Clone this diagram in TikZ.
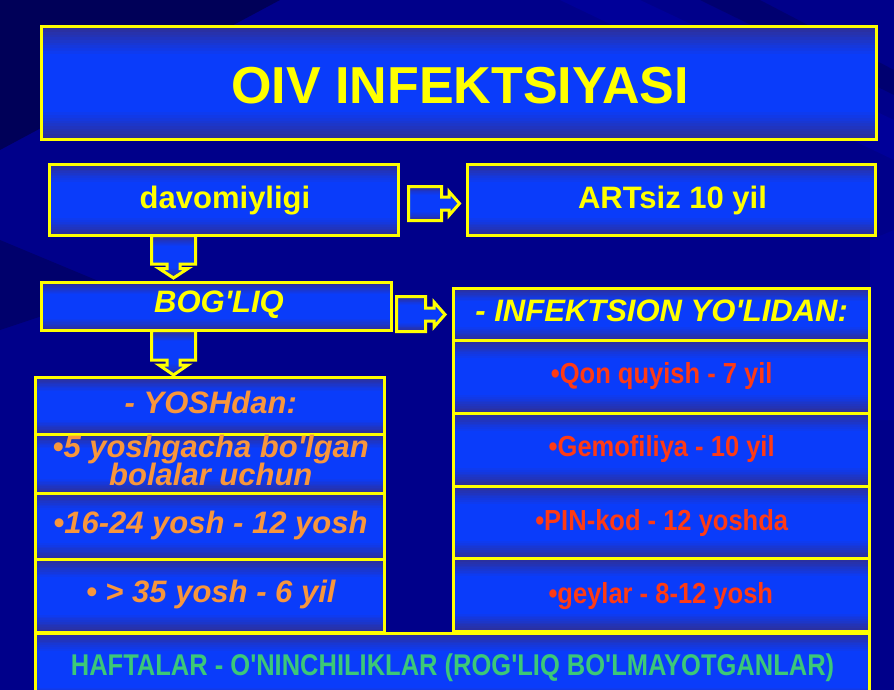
\documentclass[tikz,border=0pt]{standalone}
\usepackage{fontspec}
\setmainfont{Liberation Sans}
\usetikzlibrary{calc}
\definecolor{bgnavy}{HTML}{00008A}
\definecolor{bgdark}{HTML}{000058}
\definecolor{bglight}{HTML}{0000A8}
\definecolor{bright}{HTML}{0A3CFA}
\definecolor{dk}{HTML}{2E2F98}
\definecolor{yel}{HTML}{FFFF00}
\definecolor{orng}{HTML}{F8963C}
\definecolor{redt}{HTML}{FF3A14}
\definecolor{grn}{HTML}{3CC878}
\tikzset{
  panel/.style={draw=yel, line width=3pt, fill=bright, inner sep=0pt, outer sep=0pt,
    path picture={
      \foreach \i in {0,...,9}{
        \pgfmathsetmacro\ppa{0.024*\i}
        \pgfmathsetmacro\ppb{0.024*(\i+1)+0.003}
        \pgfmathsetmacro\ppc{1-\ppa}
        \pgfmathsetmacro\ppd{1-\ppb}
        \pgfmathtruncatemacro\ppk{100-10*\i}
        \fill[dk!\ppk!bright] ($(path picture bounding box.north west)!\ppa!(path picture bounding box.south west)$) rectangle ($(path picture bounding box.north east)!\ppb!(path picture bounding box.south east)$);
        \fill[dk!\ppk!bright] ($(path picture bounding box.north west)!\ppc!(path picture bounding box.south west)$) rectangle ($(path picture bounding box.north east)!\ppd!(path picture bounding box.south east)$);
      }
    }},
  barrow/.style={panel, line join=miter},
  ytxt/.style={text=yel, font=\fontsize{31}{31}\selectfont\bfseries, anchor=base, inner sep=0pt},
  yitxt/.style={text=yel, font=\fontsize{31}{31}\selectfont\bfseries\itshape, anchor=base, inner sep=0pt},
  otxt/.style={text=orng, font=\fontsize{31}{28}\selectfont\bfseries\itshape, anchor=base, inner sep=0pt},
  rtxt/.style={text=redt, font=\fontsize{29}{29}\selectfont\bfseries, anchor=base, inner sep=0pt},
  gtxt/.style={text=grn, font=\fontsize{30}{30}\selectfont\bfseries, anchor=base, inner sep=0pt},
}
\begin{document}
\begin{tikzpicture}[x=1pt,y=-1pt]
\useasboundingbox (0,0) rectangle (894,690);
\clip (0,0) rectangle (894,690);
% background
\fill[bgnavy] (0,0) rectangle (894,690);
\fill[bgdark] (0,0) -- (280,0) -- (0,150) -- cycle;
\fill[bgdark, opacity=0.6] (0,240) -- (120,290) -- (0,330) -- cycle;
\fill[bglight, opacity=0.5] (560,0) -- (640,0) -- (894,120) -- (894,160) -- cycle;
\fill[bgdark, opacity=0.5] (700,0) -- (760,0) -- (894,70) -- (894,95) -- cycle;
\fill[bglight, opacity=0.4] (870,240) -- (894,230) -- (894,420) -- (870,420) -- cycle;

% boxes
\node[panel, minimum width=835pt, minimum height=113pt] (title) at (459,83) {};
\node[panel, minimum width=349pt, minimum height=71pt] (dav) at (224,200) {};
\node[panel, minimum width=408pt, minimum height=71pt] (art) at (671.5,200) {};
\node[panel, minimum width=350pt, minimum height=48pt] (bog) at (216.5,306.5) {};
\node[panel, minimum width=416pt, minimum height=51.5pt] (inf) at (661.5,314.25) {};
% left column
\node[panel, minimum width=349pt, minimum height=56.5pt] (yosh) at (210,405.75) {};
\node[panel, minimum width=349pt, minimum height=59.5pt] (five) at (210,463.75) {};
\node[panel, minimum width=349pt, minimum height=66pt] (s16) at (210,526.5) {};
\node[panel, minimum width=349pt, minimum height=73pt] (s35) at (210,596) {};
% right column
\node[panel, minimum width=416pt, minimum height=73pt] (qon) at (661.5,376.5) {};
\node[panel, minimum width=416pt, minimum height=73pt] (gem) at (661.5,449.5) {};
\node[panel, minimum width=416pt, minimum height=72.5pt] (pin) at (661.5,522.25) {};
\node[panel, minimum width=416pt, minimum height=73pt] (gey) at (661.5,595) {};
% bottom
\node[panel, minimum width=834pt, minimum height=72pt] (bot) at (452.5,669) {};

% block arrows
\draw[barrow] ($(dav.east)+(10,-13.5)$) -- ++(33,0) -- ++(0,10.5) -- ++(7.5,0) -- ++(0,-5.5)
  -- ++(10.5,12) -- ++(-10.5,12) -- ++(0,-5.5) -- ++(-7.5,0) -- ++(0,10.5) -- ++(-33,0) -- cycle;
\draw[barrow] ($(bog.east)+(5,-10)$) -- ++(29,0) -- ++(0,11.5) -- ++(8.5,0) -- ++(0,-6)
  -- ++(11,12.5) -- ++(-11,12.5) -- ++(0,-6) -- ++(-8.5,0) -- ++(0,10.5) -- ++(-29,0) -- cycle;
\draw[barrow] ($(dav.south)+(-72.5,0)$) -- ++(44,0) -- ++(0,28.5) -- ++(-15.5,0) -- ++(0,4.5)
  -- ++(8,0) -- ++(-14.5,9.5) -- ++(-14.5,-9.5) -- ++(8,0) -- ++(0,-4.5) -- ++(-15.5,0) -- cycle;
\draw[barrow] ($(bog.south)+(-65,0)$) -- ++(44,0) -- ++(0,29.5) -- ++(-15.5,0) -- ++(0,5)
  -- ++(8,0) -- ++(-14.5,10) -- ++(-14.5,-10) -- ++(8,0) -- ++(0,-5) -- ++(-15.5,0) -- cycle;

% texts
\node[text=yel, font=\fontsize{52}{52}\selectfont\bfseries, anchor=base, inner sep=0pt] (tt) at (460,104) {OIV INFEKTSIYASI};
\node[ytxt] (davt) at (225,208) {davomiyligi};
\node[ytxt] (artt) at (672.5,208) {ARTsiz 10 yil};
\node[yitxt] (bogt) at (219,312) {BOG\textquotesingle LIQ};
\node[yitxt] (inft) at (661.7,321.5) {- INFEKTSION YO\textquotesingle LIDAN:};
\node[otxt] (yosht) at (210.8,413.3) {- YOSHdan:};
\node[otxt] (fivet1) at (210.8,457.5) {•5 yoshgacha bo\textquotesingle lgan};
\node[otxt] (fivet2) at (210.8,485.5) {bolalar uchun};
\node[otxt] (s16t) at (210.5,533.3) {•16-24 yosh - 12 yosh};
\node[otxt] (s35t) at (210.8,602.7) {• > 35 yosh - 6 yil};
\node[rtxt] (qont) at (661.7,383.3) {\scalebox{0.88}[1]{•Qon quyish - 7 yil}};
\node[rtxt] (gemt) at (661.7,456.7) {\scalebox{0.88}[1]{•Gemofiliya - 10 yil}};
\node[rtxt] (pint) at (661.7,530) {\scalebox{0.88}[1]{•PIN-kod - 12 yoshda}};
\node[rtxt] (geyt) at (660.8,603.3) {\scalebox{0.88}[1]{•geylar - 8-12 yosh}};
\node[gtxt] (bott) at (452.5,675) {\scalebox{0.85}[1]{HAFTALAR - O\textquotesingle NINCHILIKLAR (ROG\textquotesingle LIQ BO\textquotesingle LMAYOTGANLAR)}};
\end{tikzpicture}
\end{document}
